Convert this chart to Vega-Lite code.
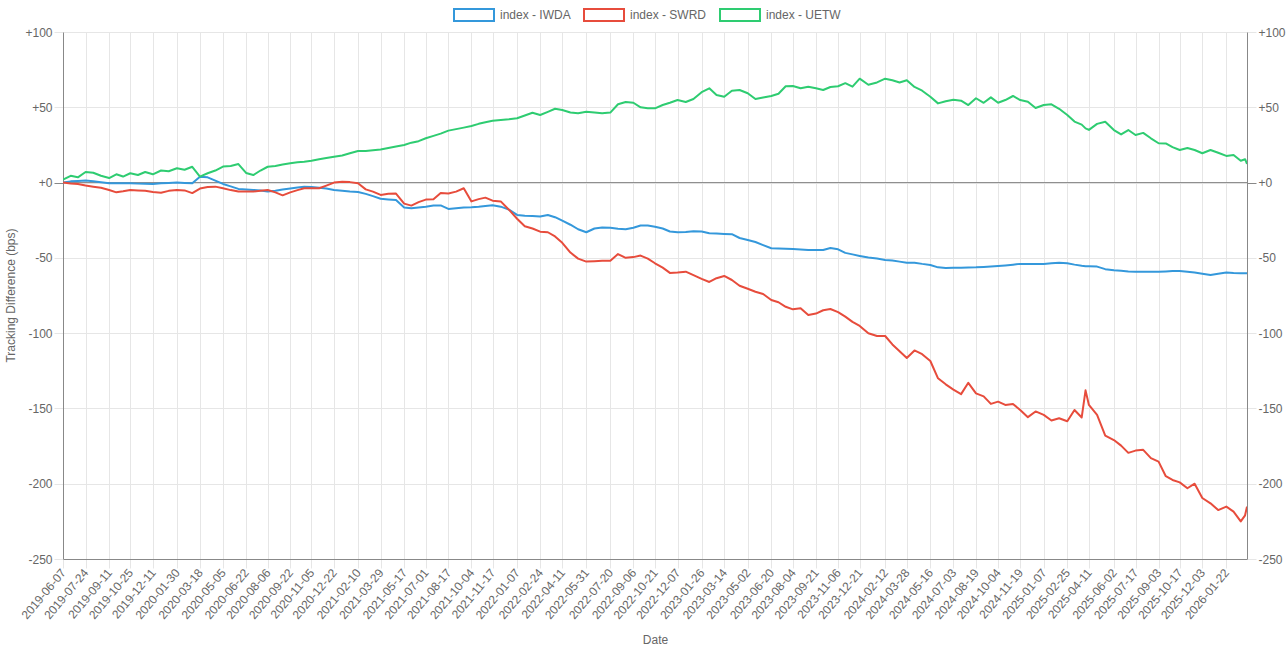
{
  "$schema": "https://vega.github.io/schema/vega-lite/v6.json",
  "width": 1184,
  "height": 527,
  "autosize": "none",
  "padding": {"left": 63, "top": 32, "right": 41, "bottom": 93},
  "background": "white",
  "config": {
    "view": {"stroke": null},
    "font": "Liberation Sans",
    "axis": {
      "labelFont": "Liberation Sans",
      "labelFontSize": 12,
      "labelColor": "#666",
      "titleFont": "Liberation Sans",
      "titleFontSize": 12,
      "titleColor": "#666",
      "titleFontWeight": "normal",
      "gridColor": "#e6e6e6",
      "tickColor": "#e6e6e6",
      "domainColor": "#888",
      "tickSize": 9
    }
  },
  "layer": [
    {
      "data": {"values": [{}]},
      "mark": {"type": "rule", "color": "#888", "strokeWidth": 1},
      "encoding": {
        "y": {
          "datum": 0,
          "type": "quantitative",
          "scale": {"domain": [-250, 100], "nice": false},
          "axis": {
            "orient": "right",
            "grid": false,
            "values": [-250, -200, -150, -100, -50, 0, 50, 100],
            "labelExpr": "datum.value > 0 ? '+' + datum.value : (datum.value == 0 ? '+0' : '' + datum.value)",
            "labelPadding": 2,
            "tickColor": {"condition": {"test": "datum.value === 0", "value": "#888"}, "value": "#e6e6e6"},
            "title": null
          }
        }
      }
    },
    {
      "data": {
        "values": [
          {"d": "2019-06-07", "IWDA": 0, "SWRD": 0, "UETW": 2},
          {"d": "2019-06-23", "IWDA": 0.8, "SWRD": -0.6, "UETW": 4.5},
          {"d": "2019-07-08", "IWDA": 1, "SWRD": -0.9, "UETW": 3.5},
          {"d": "2019-07-24", "IWDA": 1.3, "SWRD": -2, "UETW": 7},
          {"d": "2019-08-09", "IWDA": 0.8, "SWRD": -2.7, "UETW": 6.5},
          {"d": "2019-08-25", "IWDA": 0.2, "SWRD": -3.5, "UETW": 4.5},
          {"d": "2019-09-11", "IWDA": -0.5, "SWRD": -4.9, "UETW": 3},
          {"d": "2019-09-26", "IWDA": -0.5, "SWRD": -6.5, "UETW": 5.5},
          {"d": "2019-10-10", "IWDA": -0.5, "SWRD": -5.8, "UETW": 4},
          {"d": "2019-10-25", "IWDA": -0.5, "SWRD": -4.9, "UETW": 6.2},
          {"d": "2019-11-10", "IWDA": -0.7, "SWRD": -5.2, "UETW": 5},
          {"d": "2019-11-25", "IWDA": -0.8, "SWRD": -5.4, "UETW": 7},
          {"d": "2019-12-11", "IWDA": -0.9, "SWRD": -6.2, "UETW": 5.5},
          {"d": "2019-12-28", "IWDA": -0.5, "SWRD": -6.7, "UETW": 8},
          {"d": "2020-01-13", "IWDA": -0.3, "SWRD": -5.5, "UETW": 7.5},
          {"d": "2020-01-30", "IWDA": 0, "SWRD": -4.9, "UETW": 9.5},
          {"d": "2020-02-15", "IWDA": -0.3, "SWRD": -5.2, "UETW": 8.5},
          {"d": "2020-03-02", "IWDA": -0.5, "SWRD": -7, "UETW": 10.5},
          {"d": "2020-03-18", "IWDA": 3.9, "SWRD": -4, "UETW": 4},
          {"d": "2020-04-03", "IWDA": 3.5, "SWRD": -3, "UETW": 6.2},
          {"d": "2020-04-19", "IWDA": 1.3, "SWRD": -2.7, "UETW": 8},
          {"d": "2020-05-05", "IWDA": -0.9, "SWRD": -3.8, "UETW": 10.6},
          {"d": "2020-05-21", "IWDA": -2.5, "SWRD": -5, "UETW": 11},
          {"d": "2020-06-06", "IWDA": -4.2, "SWRD": -6, "UETW": 12.3},
          {"d": "2020-06-22", "IWDA": -4.6, "SWRD": -6, "UETW": 6.4},
          {"d": "2020-07-07", "IWDA": -4.9, "SWRD": -6, "UETW": 5},
          {"d": "2020-07-22", "IWDA": -5.2, "SWRD": -5.5, "UETW": 8},
          {"d": "2020-08-06", "IWDA": -5.9, "SWRD": -4.9, "UETW": 10.5},
          {"d": "2020-08-22", "IWDA": -5.5, "SWRD": -6.5, "UETW": 11},
          {"d": "2020-09-06", "IWDA": -4.6, "SWRD": -8.5, "UETW": 12},
          {"d": "2020-09-22", "IWDA": -3.9, "SWRD": -6.5, "UETW": 12.8},
          {"d": "2020-10-07", "IWDA": -3.3, "SWRD": -5, "UETW": 13.5},
          {"d": "2020-10-21", "IWDA": -2.8, "SWRD": -3.8, "UETW": 13.9},
          {"d": "2020-11-05", "IWDA": -2.9, "SWRD": -3.8, "UETW": 14.5},
          {"d": "2020-11-21", "IWDA": -3.5, "SWRD": -3.8, "UETW": 15.5},
          {"d": "2020-12-06", "IWDA": -4, "SWRD": -2, "UETW": 16.3},
          {"d": "2020-12-22", "IWDA": -4.9, "SWRD": 0, "UETW": 17.2},
          {"d": "2021-01-08", "IWDA": -5.5, "SWRD": 0.6, "UETW": 18},
          {"d": "2021-01-24", "IWDA": -6, "SWRD": 0.3, "UETW": 19.5},
          {"d": "2021-02-10", "IWDA": -6.2, "SWRD": -0.5, "UETW": 21},
          {"d": "2021-02-26", "IWDA": -7.5, "SWRD": -4.5, "UETW": 21},
          {"d": "2021-03-13", "IWDA": -9, "SWRD": -6, "UETW": 21.5},
          {"d": "2021-03-29", "IWDA": -10.7, "SWRD": -8.2, "UETW": 22},
          {"d": "2021-04-14", "IWDA": -11.2, "SWRD": -7.5, "UETW": 23},
          {"d": "2021-04-30", "IWDA": -11.6, "SWRD": -7.3, "UETW": 24},
          {"d": "2021-05-17", "IWDA": -16.5, "SWRD": -14, "UETW": 25},
          {"d": "2021-06-01", "IWDA": -17, "SWRD": -15.3, "UETW": 26.5},
          {"d": "2021-06-16", "IWDA": -16.5, "SWRD": -13, "UETW": 27.5},
          {"d": "2021-07-01", "IWDA": -16, "SWRD": -11.3, "UETW": 29.4},
          {"d": "2021-07-17", "IWDA": -15.3, "SWRD": -11.1, "UETW": 31},
          {"d": "2021-08-01", "IWDA": -15.2, "SWRD": -7, "UETW": 32.5},
          {"d": "2021-08-17", "IWDA": -17.5, "SWRD": -7.2, "UETW": 34.5},
          {"d": "2021-09-02", "IWDA": -17, "SWRD": -6, "UETW": 35.5},
          {"d": "2021-09-18", "IWDA": -16.5, "SWRD": -3.8, "UETW": 36.5},
          {"d": "2021-10-04", "IWDA": -16.4, "SWRD": -12.5, "UETW": 37.6},
          {"d": "2021-10-19", "IWDA": -16, "SWRD": -11, "UETW": 39},
          {"d": "2021-11-02", "IWDA": -15.5, "SWRD": -10, "UETW": 40},
          {"d": "2021-11-17", "IWDA": -15, "SWRD": -12, "UETW": 41},
          {"d": "2021-12-04", "IWDA": -16, "SWRD": -12.5, "UETW": 41.5},
          {"d": "2021-12-21", "IWDA": -18, "SWRD": -18, "UETW": 42},
          {"d": "2022-01-07", "IWDA": -21.5, "SWRD": -24, "UETW": 42.7},
          {"d": "2022-01-23", "IWDA": -22, "SWRD": -29, "UETW": 44.5},
          {"d": "2022-02-08", "IWDA": -22.2, "SWRD": -30.5, "UETW": 46.4},
          {"d": "2022-02-24", "IWDA": -22.6, "SWRD": -32.6, "UETW": 44.9},
          {"d": "2022-03-12", "IWDA": -21.5, "SWRD": -33, "UETW": 47},
          {"d": "2022-03-27", "IWDA": -23, "SWRD": -35.8, "UETW": 49},
          {"d": "2022-04-11", "IWDA": -25.3, "SWRD": -40, "UETW": 48.2},
          {"d": "2022-04-28", "IWDA": -28, "SWRD": -46.5, "UETW": 46.5},
          {"d": "2022-05-14", "IWDA": -31, "SWRD": -50.5, "UETW": 46},
          {"d": "2022-05-31", "IWDA": -33, "SWRD": -52.5, "UETW": 47},
          {"d": "2022-06-17", "IWDA": -30.5, "SWRD": -52.2, "UETW": 46.5},
          {"d": "2022-07-03", "IWDA": -29.9, "SWRD": -52, "UETW": 46},
          {"d": "2022-07-20", "IWDA": -30, "SWRD": -52, "UETW": 46.5},
          {"d": "2022-08-05", "IWDA": -30.7, "SWRD": -47.5, "UETW": 52},
          {"d": "2022-08-21", "IWDA": -31, "SWRD": -50, "UETW": 53.5},
          {"d": "2022-09-06", "IWDA": -30, "SWRD": -49.5, "UETW": 53},
          {"d": "2022-09-21", "IWDA": -28.5, "SWRD": -48.5, "UETW": 50},
          {"d": "2022-10-06", "IWDA": -28.5, "SWRD": -50.5, "UETW": 49.3},
          {"d": "2022-10-21", "IWDA": -29.3, "SWRD": -53.6, "UETW": 49.3},
          {"d": "2022-11-06", "IWDA": -30.5, "SWRD": -56.5, "UETW": 51.5},
          {"d": "2022-11-21", "IWDA": -32.5, "SWRD": -60, "UETW": 53},
          {"d": "2022-12-07", "IWDA": -33, "SWRD": -59.8, "UETW": 54.8},
          {"d": "2022-12-24", "IWDA": -32.8, "SWRD": -59.2, "UETW": 53.5},
          {"d": "2023-01-09", "IWDA": -32.3, "SWRD": -61.5, "UETW": 55.5},
          {"d": "2023-01-26", "IWDA": -32.5, "SWRD": -64, "UETW": 60},
          {"d": "2023-02-11", "IWDA": -33.7, "SWRD": -66, "UETW": 62.6},
          {"d": "2023-02-26", "IWDA": -33.9, "SWRD": -63.5, "UETW": 58.2},
          {"d": "2023-03-14", "IWDA": -34.1, "SWRD": -62, "UETW": 57},
          {"d": "2023-03-30", "IWDA": -34.3, "SWRD": -64.7, "UETW": 61},
          {"d": "2023-04-15", "IWDA": -36.8, "SWRD": -68.5, "UETW": 61.5},
          {"d": "2023-05-02", "IWDA": -38.1, "SWRD": -70.5, "UETW": 59.3},
          {"d": "2023-05-18", "IWDA": -39.5, "SWRD": -72.5, "UETW": 55.5},
          {"d": "2023-06-03", "IWDA": -41.5, "SWRD": -74, "UETW": 56.5},
          {"d": "2023-06-20", "IWDA": -43.6, "SWRD": -78, "UETW": 57.5},
          {"d": "2023-07-05", "IWDA": -43.8, "SWRD": -79.5, "UETW": 59},
          {"d": "2023-07-20", "IWDA": -44, "SWRD": -82.5, "UETW": 64},
          {"d": "2023-08-04", "IWDA": -44.1, "SWRD": -84.2, "UETW": 64.1},
          {"d": "2023-08-20", "IWDA": -44.4, "SWRD": -83.5, "UETW": 62.6},
          {"d": "2023-09-05", "IWDA": -44.8, "SWRD": -88, "UETW": 63.7},
          {"d": "2023-09-21", "IWDA": -44.8, "SWRD": -87, "UETW": 62.6},
          {"d": "2023-10-06", "IWDA": -44.8, "SWRD": -84.8, "UETW": 61.5},
          {"d": "2023-10-21", "IWDA": -43.5, "SWRD": -84, "UETW": 63.5},
          {"d": "2023-11-06", "IWDA": -44.3, "SWRD": -86, "UETW": 64},
          {"d": "2023-11-21", "IWDA": -46.7, "SWRD": -89, "UETW": 66},
          {"d": "2023-12-06", "IWDA": -47.7, "SWRD": -92.5, "UETW": 63.7},
          {"d": "2023-12-21", "IWDA": -48.7, "SWRD": -95.2, "UETW": 69},
          {"d": "2024-01-08", "IWDA": -49.8, "SWRD": -100.1, "UETW": 65},
          {"d": "2024-01-26", "IWDA": -50.5, "SWRD": -101.9, "UETW": 66.5},
          {"d": "2024-02-12", "IWDA": -51.4, "SWRD": -101.9, "UETW": 69},
          {"d": "2024-02-27", "IWDA": -51.8, "SWRD": -107.5, "UETW": 68},
          {"d": "2024-03-13", "IWDA": -52.5, "SWRD": -112, "UETW": 66.5},
          {"d": "2024-03-28", "IWDA": -53.2, "SWRD": -116.5, "UETW": 68},
          {"d": "2024-04-13", "IWDA": -53.2, "SWRD": -111.5, "UETW": 63.5},
          {"d": "2024-04-29", "IWDA": -54, "SWRD": -114, "UETW": 61},
          {"d": "2024-05-16", "IWDA": -54.7, "SWRD": -118.5, "UETW": 57},
          {"d": "2024-06-01", "IWDA": -56.3, "SWRD": -130, "UETW": 52.6},
          {"d": "2024-06-17", "IWDA": -56.8, "SWRD": -134, "UETW": 54},
          {"d": "2024-07-03", "IWDA": -56.6, "SWRD": -137.5, "UETW": 55},
          {"d": "2024-07-19", "IWDA": -56.5, "SWRD": -140.5, "UETW": 54.4},
          {"d": "2024-08-03", "IWDA": -56.4, "SWRD": -133, "UETW": 51.5},
          {"d": "2024-08-19", "IWDA": -56.3, "SWRD": -140, "UETW": 56},
          {"d": "2024-09-04", "IWDA": -56, "SWRD": -142, "UETW": 53},
          {"d": "2024-09-19", "IWDA": -55.7, "SWRD": -147, "UETW": 56.6},
          {"d": "2024-10-04", "IWDA": -55.4, "SWRD": -145.5, "UETW": 53},
          {"d": "2024-10-19", "IWDA": -55, "SWRD": -147.7, "UETW": 54.8},
          {"d": "2024-11-04", "IWDA": -54.5, "SWRD": -147, "UETW": 57.5},
          {"d": "2024-11-19", "IWDA": -54, "SWRD": -151, "UETW": 54.8},
          {"d": "2024-12-05", "IWDA": -54, "SWRD": -155.8, "UETW": 53.7},
          {"d": "2024-12-21", "IWDA": -54, "SWRD": -152, "UETW": 49.5},
          {"d": "2025-01-07", "IWDA": -54, "SWRD": -154.3, "UETW": 51.5},
          {"d": "2025-01-23", "IWDA": -53.6, "SWRD": -158, "UETW": 52},
          {"d": "2025-02-08", "IWDA": -53.3, "SWRD": -156.5, "UETW": 49},
          {"d": "2025-02-25", "IWDA": -53.6, "SWRD": -158.5, "UETW": 44.9},
          {"d": "2025-03-12", "IWDA": -54.5, "SWRD": -151, "UETW": 40.5},
          {"d": "2025-03-27", "IWDA": -55.2, "SWRD": -156, "UETW": 38.5},
          {"d": "2025-04-04", "IWDA": -55.5, "SWRD": -138, "UETW": 36},
          {"d": "2025-04-11", "IWDA": -55.6, "SWRD": -147.7, "UETW": 35},
          {"d": "2025-04-28", "IWDA": -55.8, "SWRD": -154.3, "UETW": 39},
          {"d": "2025-05-15", "IWDA": -57.5, "SWRD": -168, "UETW": 40.4},
          {"d": "2025-06-02", "IWDA": -58.2, "SWRD": -171, "UETW": 34.9},
          {"d": "2025-06-17", "IWDA": -58.6, "SWRD": -174.7, "UETW": 32},
          {"d": "2025-07-02", "IWDA": -59, "SWRD": -179.5, "UETW": 34.9},
          {"d": "2025-07-17", "IWDA": -59.2, "SWRD": -178, "UETW": 31.6},
          {"d": "2025-08-02", "IWDA": -59.2, "SWRD": -177.5, "UETW": 33},
          {"d": "2025-08-18", "IWDA": -59.2, "SWRD": -183, "UETW": 29.4},
          {"d": "2025-09-03", "IWDA": -59.2, "SWRD": -185.3, "UETW": 26.1},
          {"d": "2025-09-18", "IWDA": -59, "SWRD": -195, "UETW": 26},
          {"d": "2025-10-02", "IWDA": -58.8, "SWRD": -197.5, "UETW": 23.5},
          {"d": "2025-10-17", "IWDA": -58.7, "SWRD": -199.1, "UETW": 21.6},
          {"d": "2025-11-02", "IWDA": -59.2, "SWRD": -203, "UETW": 23},
          {"d": "2025-11-17", "IWDA": -59.7, "SWRD": -200, "UETW": 21.6},
          {"d": "2025-12-03", "IWDA": -60.5, "SWRD": -209.5, "UETW": 19.5},
          {"d": "2025-12-20", "IWDA": -61.4, "SWRD": -213, "UETW": 21.6},
          {"d": "2026-01-05", "IWDA": -60.6, "SWRD": -217.5, "UETW": 19.8},
          {"d": "2026-01-22", "IWDA": -59.8, "SWRD": -215.2, "UETW": 17.7},
          {"d": "2026-02-06", "IWDA": -60.1, "SWRD": -218.5, "UETW": 18.3},
          {"d": "2026-02-21", "IWDA": -60.2, "SWRD": -225, "UETW": 14.5},
          {"d": "2026-03-02", "IWDA": -60.2, "SWRD": -221, "UETW": 15.5},
          {"d": "2026-03-06", "IWDA": -60.2, "SWRD": -215.2, "UETW": 12.4}
        ]
      },
      "transform": [
        {"fold": ["IWDA", "SWRD", "UETW"], "as": ["s", "v"]}
      ],
      "mark": {"type": "line", "strokeJoin": "round", "clip": true},
      "encoding": {
        "x": {
          "field": "d",
          "type": "temporal",
          "scale": {
            "domain": [{"year": 2019, "month": 6, "date": 7}, {"year": 2026, "month": 3, "date": 6}],
            "nice": false
          },
          "axis": {
            "title": "Date",
            "titleX": 592,
            "titleY": 80,
            "titleBaseline": "middle",
            "format": "%Y-%m-%d",
            "labelAngle": -50,
            "labelAlign": "right",
            "labelBaseline": "middle",
            "labelPadding": 2,
            "labelOverlap": false,
            "labelFlush": false,
            "grid": true,
            "values": [
              {"year": 2019, "month": 6, "date": 7}, {"year": 2019, "month": 7, "date": 24},
              {"year": 2019, "month": 9, "date": 11}, {"year": 2019, "month": 10, "date": 25},
              {"year": 2019, "month": 12, "date": 11}, {"year": 2020, "month": 1, "date": 30},
              {"year": 2020, "month": 3, "date": 18}, {"year": 2020, "month": 5, "date": 5},
              {"year": 2020, "month": 6, "date": 22}, {"year": 2020, "month": 8, "date": 6},
              {"year": 2020, "month": 9, "date": 22}, {"year": 2020, "month": 11, "date": 5},
              {"year": 2020, "month": 12, "date": 22}, {"year": 2021, "month": 2, "date": 10},
              {"year": 2021, "month": 3, "date": 29}, {"year": 2021, "month": 5, "date": 17},
              {"year": 2021, "month": 7, "date": 1}, {"year": 2021, "month": 8, "date": 17},
              {"year": 2021, "month": 10, "date": 4}, {"year": 2021, "month": 11, "date": 17},
              {"year": 2022, "month": 1, "date": 7}, {"year": 2022, "month": 2, "date": 24},
              {"year": 2022, "month": 4, "date": 11}, {"year": 2022, "month": 5, "date": 31},
              {"year": 2022, "month": 7, "date": 20}, {"year": 2022, "month": 9, "date": 6},
              {"year": 2022, "month": 10, "date": 21}, {"year": 2022, "month": 12, "date": 7},
              {"year": 2023, "month": 1, "date": 26}, {"year": 2023, "month": 3, "date": 14},
              {"year": 2023, "month": 5, "date": 2}, {"year": 2023, "month": 6, "date": 20},
              {"year": 2023, "month": 8, "date": 4}, {"year": 2023, "month": 9, "date": 21},
              {"year": 2023, "month": 11, "date": 6}, {"year": 2023, "month": 12, "date": 21},
              {"year": 2024, "month": 2, "date": 12}, {"year": 2024, "month": 3, "date": 28},
              {"year": 2024, "month": 5, "date": 16}, {"year": 2024, "month": 7, "date": 3},
              {"year": 2024, "month": 8, "date": 19}, {"year": 2024, "month": 10, "date": 4},
              {"year": 2024, "month": 11, "date": 19}, {"year": 2025, "month": 1, "date": 7},
              {"year": 2025, "month": 2, "date": 25}, {"year": 2025, "month": 4, "date": 11},
              {"year": 2025, "month": 6, "date": 2}, {"year": 2025, "month": 7, "date": 17},
              {"year": 2025, "month": 9, "date": 3}, {"year": 2025, "month": 10, "date": 17},
              {"year": 2025, "month": 12, "date": 3}, {"year": 2026, "month": 1, "date": 22}
            ]
          }
        },
        "y": {
          "field": "v",
          "type": "quantitative",
          "scale": {"domain": [-250, 100], "nice": false},
          "axis": {
            "orient": "left",
            "title": "Tracking Difference (bps)",
            "titleX": -53,
            "titleY": 263,
            "titleAlign": "center",
            "titleBaseline": "middle",
            "values": [-250, -200, -150, -100, -50, 0, 50, 100],
            "labelExpr": "datum.value > 0 ? '+' + datum.value : (datum.value == 0 ? '+0' : '' + datum.value)",
            "labelPadding": 2,
            "grid": true,
            "tickColor": {"condition": {"test": "datum.value === 0", "value": "#888"}, "value": "#e6e6e6"}
          }
        },
        "color": {
          "field": "s",
          "type": "nominal",
          "scale": {"domain": ["IWDA", "SWRD", "UETW"], "range": ["#3498db", "#e74c3c", "#2ecc71"]},
          "legend": {
            "orient": "none",
            "legendX": 390,
            "legendY": -38,
            "direction": "horizontal",
            "title": null,
            "padding": 0,
            "labelExpr": "'index - ' + datum.label",
            "symbolType": "M-1,-0.3H1V0.3H-1Z",
            "symbolSize": 1600,
            "symbolStrokeWidth": 3,
            "symbolFillColor": "white",
            "labelOffset": 5,
            "columnPadding": 9,
            "labelFont": "Liberation Sans",
            "labelFontSize": 12,
            "labelColor": "#666"
          }
        },
        "strokeWidth": {
          "field": "s",
          "type": "ordinal",
          "scale": {"domain": ["IWDA", "SWRD", "UETW"], "range": [2, 2, 3.5]},
          "legend": null
        }
      }
    }
  ],
  "resolve": {"axis": {"y": "independent"}}
}
